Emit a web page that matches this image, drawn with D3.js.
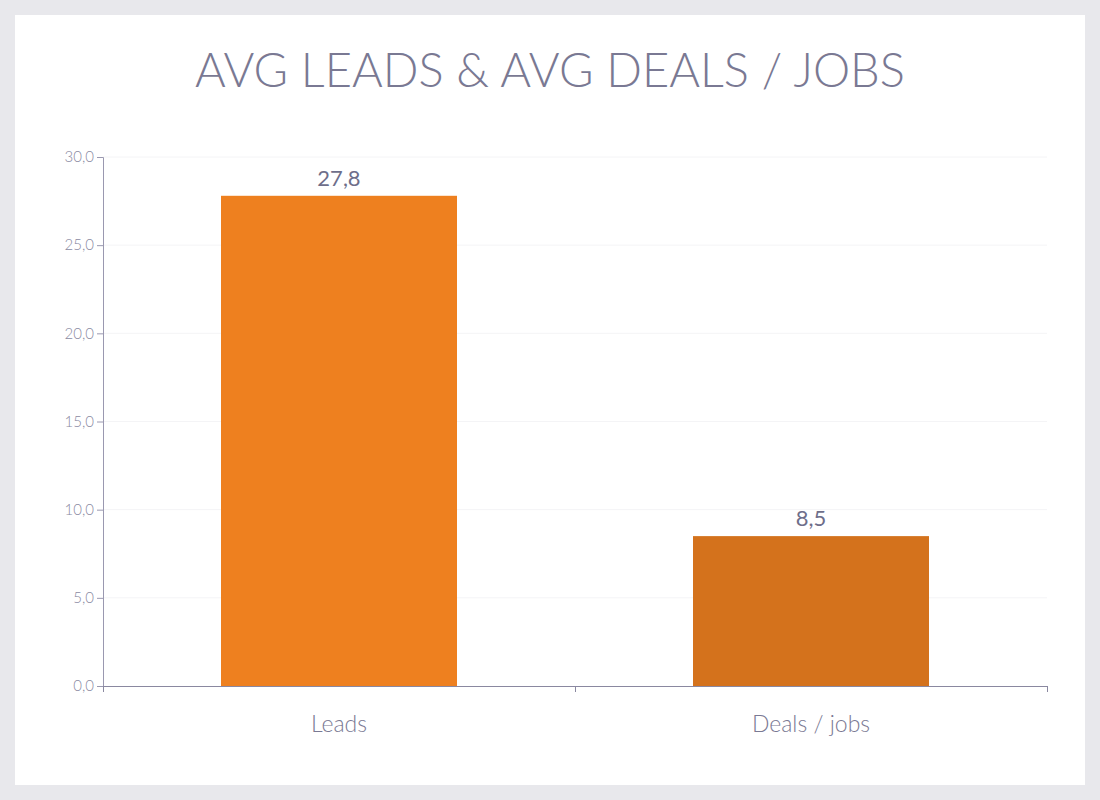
<!DOCTYPE html>
<html><head><meta charset="utf-8">
<script src="https://cdn.jsdelivr.net/npm/d3@7"></script>
<style>body{margin:0;background:#e8e8ec;font-family:Lato,sans-serif;}</style>
</head><body>
<script>
var categories = ['Leads', 'Deals / jobs'];
var values = [27.8, 8.5];
var colors = ['#ee801f', '#d4721c'];
var yTicks = [0, 5, 10, 15, 20, 25, 30];

var svg = d3.select('body').append('svg').attr('width', 1100).attr('height', 800);
svg.append('rect').attr('width', 1100).attr('height', 800).attr('fill', '#e8e8ec');
svg.append('rect').attr('x', 15).attr('y', 15).attr('width', 1070).attr('height', 770).attr('fill', '#fff');

svg.append('text').attr('x', 550).attr('y', 87).attr('text-anchor', 'middle')
   .attr('font-size', 47).attr('font-weight', 300).attr('fill', '#7a7993')
   .text('AVG LEADS & AVG DEALS / JOBS');

var fmt = function(v) { return d3.format('.1f')(v).replace('.', ','); };

var x = d3.scaleBand().domain(categories).range([103, 1047]).paddingInner(0.5).paddingOuter(0.25);
var y = d3.scaleLinear().domain([0, 30]).range([686, 157]);

// grid
svg.selectAll('.grid').data(yTicks.slice(1)).enter().append('line')
   .attr('x1', 103).attr('x2', 1047).attr('y1', y).attr('y2', y)
   .attr('stroke', '#f4f4f6');

svg.selectAll('.bar').data(values).enter().append('rect')
   .attr('x', function(d, i) { return x(categories[i]); })
   .attr('width', x.bandwidth())
   .attr('y', function(d) { return y(d); })
   .attr('height', function(d) { return y(0) - y(d); })
   .attr('fill', function(d, i) { return colors[i]; });

svg.selectAll('.val').data(values).enter().append('text')
   .attr('x', function(d, i) { return x(categories[i]) + x.bandwidth() / 2; })
   .attr('y', function(d) { return y(d) - 10; })
   .attr('text-anchor', 'middle').attr('font-size', 22).attr('fill', '#6e6e8a')
   .text(fmt);

var ya = svg.append('g').attr('transform', 'translate(103,0)')
   .call(d3.axisLeft(y).tickValues(yTicks).tickFormat(fmt).tickSize(6));
ya.selectAll('text').attr('font-size', 15).attr('fill', '#8a8aa2').attr('font-family', 'Lato').attr('font-weight', 300);
ya.selectAll('line, path').attr('stroke', '#9a98b0');

var xs = d3.scalePoint().domain([0, 1, 2]).range([103, 1047]);
var xa = svg.append('g').attr('transform', 'translate(0,686)')
   .call(d3.axisBottom(xs).tickFormat('').tickSize(6).tickSizeOuter(0));
xa.selectAll('line, path').attr('stroke', '#8a88a0');

svg.selectAll('.cat').data(categories).enter().append('text')
   .attr('x', function(d) { return x(d) + x.bandwidth() / 2; })
   .attr('y', 732).attr('text-anchor', 'middle').attr('font-size', 23)
   .attr('font-weight', 300).attr('fill', '#7a7993').text(function(d) { return d; });
</script>
</body></html>
